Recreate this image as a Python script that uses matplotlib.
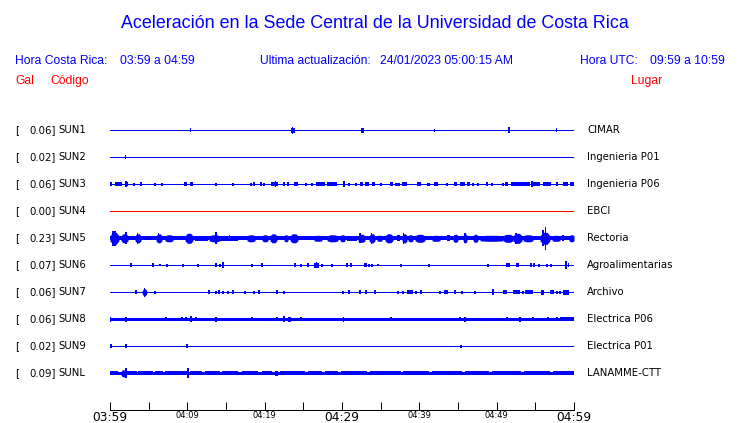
import matplotlib
matplotlib.use("Agg")
import matplotlib.pyplot as plt
from matplotlib import transforms

# station data
CODES = ["SUN1", "SUN2", "SUN3", "SUN4", "SUN5", "SUN6", "SUN7", "SUN8", "SUN9", "SUNL"]
GAL = [0.06, 0.02, 0.06, 0.00, 0.23, 0.07, 0.06, 0.06, 0.02, 0.09]
PLACES = ["CIMAR", "Ingenieria P01", "Ingenieria P06", "EBCI", "Rectoria",
          "Agroalimentarias", "Archivo", "Electrica P06", "Electrica P01", "LANAMME-CTT"]
# background noise half-amplitude of each trace (trace units, 27 per row)
NOISE = [0.5, 0.5, 0.5, 0.5, 2.0, 0.5, 0.5, 1.5, 0.5, 1.4]

# events: (start minute, end minute, half-amplitude) after 03:59
SUN1_EVENTS = [(10.44, 10.44, 2), (23.4, 23.9, 2.5), (23.57, 23.57, 3.5), (32.5, 32.9, 2.5),
               (41.99, 41.99, 1.5), (51.59, 51.59, 3), (57.76, 57.76, 2)]
SUN2_EVENTS = [(2.0, 2.0, 2)]
SUN3_EVENTS = [(0.0, 0.26, 2), (0.65, 1.55, 2), (1.94, 2.33, 2), (2.07, 2.07, 3), (3.10, 3.10, 1.5),
               (4.01, 4.01, 2), (5.82, 5.82, 1.5), (6.72, 6.72, 1.5), (9.57, 9.96, 2), (10.47, 10.47, 2),
               (10.60, 10.60, 2), (13.71, 13.71, 1.5), (15.91, 15.91, 1.5), (18.23, 18.23, 1.5),
               (18.62, 18.62, 2), (19.53, 19.53, 2), (19.91, 19.91, 1.5), (20.82, 21.72, 2),
               (21.4, 21.4, 3), (22.50, 22.50, 2), (23.02, 23.02, 2), (23.79, 24.31, 2),
               (25.34, 25.34, 1.5), (26.12, 26.12, 1.5), (26.64, 27.80, 2), (28.06, 29.35, 2),
               (30.26, 30.26, 3), (30.9, 30.9, 1.5), (31.81, 31.81, 1.5), (32.33, 32.72, 2),
               (32.97, 33.5, 2), (33.9, 34.27, 2), (35.04, 35.04, 1.5), (36.21, 36.59, 2),
               (36.85, 37.50, 1.5), (37.76, 38.41, 2), (39.70, 40.22, 2), (40.99, 41.38, 1.5),
               (41.90, 42.41, 2), (43.58, 43.58, 1.5), (44.48, 44.87, 2), (45.26, 45.91, 2),
               (46.16, 46.55, 2), (46.94, 46.94, 1.5), (47.59, 47.59, 1.5), (48.62, 48.88, 2),
               (49.40, 49.40, 1.5), (50.82, 50.82, 1.5), (51.08, 51.47, 2), (51.85, 54.31, 2),
               (54.57, 54.57, 3), (54.70, 55.60, 2), (55.99, 57.03, 2), (57.67, 57.93, 2),
               (58.58, 59.22, 2), (59.48, 60.0, 2)]
SUN4_EVENTS = []
SUN5_EVENTS = [(0.0, 1.16, 6), (0.3, 0.8, 7.5), (1.42, 2.33, 4.5), (2.07, 2.07, 6), (3.23, 4.01, 4.5),
               (3.6, 3.6, 5.5), (5.95, 6.72, 4.5), (6.3, 6.3, 5), (7.11, 8.15, 3.5), (9.70, 10.73, 5),
               (11.0, 12.67, 2.5), (12.80, 14.22, 3.5), (13.71, 13.71, 6), (14.22, 16.55, 2.5),
               (15.5, 15.5, 3), (17.72, 18.75, 3.5), (19.66, 20.43, 3.5), (20.69, 21.59, 4.5),
               (22.50, 23.02, 3.5), (23.28, 24.31, 4.5), (26.38, 27.41, 3), (28.06, 29.48, 3.5),
               (29.74, 30.39, 3.5), (30.65, 31.94, 2.5), (32.07, 32.97, 4), (32.33, 32.33, 5),
               (33.49, 34.27, 4.5), (33.8, 33.8, 5.5), (34.53, 35.17, 3), (35.56, 36.59, 4.5),
               (37.11, 37.50, 3), (37.76, 38.41, 4.5), (38.0, 38.0, 5.5), (38.53, 39.18, 3.5),
               (39.44, 40.73, 4), (41.64, 42.67, 3), (43.58, 43.97, 3), (44.35, 45.00, 4),
               (45.65, 46.16, 4.5), (45.9, 45.9, 5), (46.94, 47.59, 4), (47.84, 50.82, 3),
               (50.82, 52.11, 4), (52.11, 53.28, 5), (52.5, 52.5, 5.5), (53.41, 54.70, 3.5),
               (55.60, 56.90, 6), (56.0, 56.0, 8), (56.3, 56.3, 11.5), (57.16, 58.19, 3),
               (58.58, 58.58, 3), (59.35, 60.0, 3.5)]
SUN6_EVENTS = [(2.72, 2.72, 2), (5.56, 5.56, 2), (6.47, 6.47, 1), (7.37, 7.37, 1.5), (9.44, 9.44, 1.5),
               (11.38, 11.38, 1.5), (13.71, 13.71, 2), (14.22, 14.22, 1.5), (14.5, 14.7, 3),
               (18.36, 18.36, 1.5), (19.66, 19.66, 2), (23.79, 24.05, 2), (24.70, 24.70, 1.5),
               (25.60, 25.60, 2), (26.38, 27.03, 2.5), (26.7, 26.7, 3), (27.41, 27.41, 1.5),
               (28.71, 28.71, 1.5), (30.65, 30.65, 2), (31.16, 31.16, 2), (32.84, 33.23, 2),
               (33.49, 33.49, 1.5), (33.88, 33.88, 1.5), (34.66, 34.66, 1), (37.63, 37.63, 1.5),
               (41.25, 41.25, 1.5), (48.88, 48.88, 1.5), (51.34, 51.34, 2), (51.59, 51.59, 2),
               (52.50, 52.89, 2), (54.44, 54.44, 2), (54.83, 54.83, 2), (55.47, 55.47, 1.5),
               (56.51, 56.51, 1.5), (57.03, 57.03, 1.5), (58.84, 59.09, 4), (59.22, 59.35, 2)]
SUN7_EVENTS = [(3.36, 3.36, 2), (4.14, 4.78, 3.5), (4.45, 4.45, 4.5), (5.82, 5.82, 1.5), (12.80, 12.80, 2),
               (13.71, 13.71, 1.5), (14.09, 14.09, 2), (14.61, 14.61, 1.5), (15.26, 15.26, 1.5),
               (15.91, 15.91, 2), (17.46, 17.46, 1.5), (18.62, 18.62, 1.5), (19.27, 19.27, 2),
               (21.59, 21.59, 2), (22.50, 22.50, 1.5), (30.13, 30.13, 1.5), (30.90, 30.90, 2),
               (32.33, 32.33, 2), (33.10, 33.10, 2), (34.27, 34.27, 2), (37.24, 37.24, 1.5),
               (37.89, 37.89, 1.5), (38.41, 39.18, 2), (39.57, 39.57, 1.5), (40.22, 40.22, 2),
               (42.67, 42.67, 1.5), (43.19, 43.71, 2), (44.61, 44.61, 2), (45.52, 45.52, 1.5),
               (47.20, 47.20, 1.5), (49.40, 49.66, 3), (50.82, 51.34, 2), (52.11, 53.02, 2),
               (53.41, 53.41, 1.5), (53.66, 54.70, 2), (55.73, 56.12, 2.5), (56.90, 57.41, 2),
               (57.80, 57.80, 1.5), (58.19, 58.19, 1.5), (58.58, 59.35, 2.5)]
SUN8_EVENTS = [(0.0, 0.13, 2.5), (2.07, 2.07, 2.5), (7.24, 7.24, 2), (9.31, 9.31, 2), (9.83, 9.83, 2),
               (10.47, 10.47, 3), (11.12, 11.12, 2), (13.71, 13.71, 2.5), (18.36, 18.36, 2),
               (21.59, 21.59, 2), (22.50, 22.50, 3), (23.02, 23.41, 2.5), (24.70, 24.70, 2),
               (30.13, 30.26, 2.5), (36.34, 36.34, 2), (45.26, 45.26, 2), (45.91, 45.91, 2.5),
               (51.34, 51.34, 2), (53.02, 53.02, 2.5), (54.70, 54.70, 2), (56.64, 56.64, 2),
               (57.80, 57.80, 2), (58.19, 60.0, 2)]
SUN9_EVENTS = [(0.13, 0.13, 2), (2.07, 2.07, 2), (9.96, 9.96, 2), (45.39, 45.39, 1.5)]
SUNL_EVENTS = [(0.0, 1.03, 2), (1.42, 2.07, 3.5), (2.07, 2.07, 5), (2.2, 3.49, 2), (3.62, 5.56, 2),
               (5.82, 6.85, 2), (7.11, 9.96, 2), (10.09, 10.09, 5), (10.3, 11.90, 2), (12.28, 14.22, 2),
               (14.5, 16.55, 2), (17.07, 19.14, 2), (19.66, 20.95, 2), (21.34, 21.72, 2.5),
               (21.98, 25.22, 2), (25.6, 27.4, 2), (27.8, 29.5, 2), (29.9, 33.2, 2), (33.6, 37.6, 2),
               (37.9, 41.2, 2), (41.6, 45.5, 2), (45.9, 49.0, 2), (49.4, 53.1, 2), (53.5, 56.9, 2),
               (57.3, 60.0, 2)]
EVENTS = [SUN1_EVENTS, SUN2_EVENTS, SUN3_EVENTS, SUN4_EVENTS, SUN5_EVENTS,
          SUN6_EVENTS, SUN7_EVENTS, SUN8_EVENTS, SUN9_EVENTS, SUNL_EVENTS]

MAJOR_TICKS = [0, 10, 20, 30, 40, 50, 60]
TICK_LABELS = ["03:59", "04:09", "04:19", "04:29", "04:39", "04:49", "04:59"]
MINOR_TICKS = [5, 15, 25, 35, 45, 55]

TITLE = "Aceleración en la Sede Central de la Universidad de Costa Rica"

W, H = 740, 423
ROW = 27.0  # trace units per row
PX = 72.0 / 100  # points per pixel
MIN_W = 0.15  # narrowest spike, minutes
BLUE = "#0000ff"
RED = "#ff0000"

fig = plt.figure(figsize=(W / 100, H / 100), dpi=100)
ax = fig.add_axes([110 / W, (H - 409.5) / H, 464 / W, (409.5 - 115) / H])
ax.set_xlim(0, 60)
ax.set_ylim((409.5 - 130.3) / ROW, (115 - 130.3) / ROW)

for i, events in enumerate(EVENTS):
    color = RED if GAL[i] == 0 else BLUE
    ax.hlines(i, 0, 60, color=color, lw=max(2 * NOISE[i], 1) * PX, antialiased=False)
    narrow = []
    for s, e, a in events:
        w = e - s
        if w > 0.5 and a >= 3:
            # spindle shaped burst
            xs = [s, s + 0.3 * w, e - 0.3 * w, e]
            amp = [NOISE[i] + 0.5, a, a, NOISE[i] + 0.5]
            ax.fill_between(xs, [i - v / ROW for v in amp], [i + v / ROW for v in amp],
                            color=color, lw=0, antialiased=False)
        else:
            narrow.append((s, e, a))
    if not narrow:
        continue
    xs = [(s + e) / 2 for s, e, a in narrow]
    ws = [max(e - s, MIN_W) for s, e, a in narrow]
    hs = [2 * a / ROW for s, e, a in narrow]
    bs = [i - a / ROW for s, e, a in narrow]
    ax.bar(xs, hs, width=ws, bottom=bs, color=color, lw=0, antialiased=False)

for side in ["top", "left", "right"]:
    ax.spines[side].set_visible(False)
ax.spines["bottom"].set_linewidth(PX)
ax.set_yticks([])
ax.set_xticks(MAJOR_TICKS)
ax.set_xticklabels(TICK_LABELS)
ax.set_xticks(MINOR_TICKS, minor=True)
ax.tick_params(axis="x", which="both", direction="in", length=8 * PX, width=PX, pad=1)
for k, lab in enumerate(ax.get_xticklabels()):
    lab.set_fontsize(8.8 if k in (0, 3, 6) else 6.0)
    lab.set_verticalalignment("top")

# row labels
row_tr = transforms.blended_transform_factory(fig.transFigure, ax.transData)
lab_font = dict(fontsize=7.3, color="black", va="center", transform=row_tr)
for i in range(len(CODES)):
    fig.text(15 / W, i, "[", ha="left", **lab_font)
    fig.text(55.5 / W, i, "%.2f]" % GAL[i], ha="right", **lab_font)
    fig.text(58.5 / W, i, CODES[i], ha="left", **lab_font)
    fig.text(587 / W, i, PLACES[i], ha="left", **lab_font)

# header
hdr = dict(family="Liberation Sans", fontsize=8.7, va="center")
fig.text(375 / W, 1 - 23 / H, TITLE, ha="center", family="Liberation Sans",
         fontsize=12.9, color=BLUE, va="center")
fig.text(15 / W, 1 - 61 / H, "Hora Costa Rica:", color=BLUE, **hdr)
fig.text(120 / W, 1 - 61 / H, "03:59 a 04:59", color=BLUE, **hdr)
fig.text(260 / W, 1 - 61 / H, "Ultima actualización:", color=BLUE, **hdr)
fig.text(380 / W, 1 - 61 / H, "24/01/2023 05:00:15 AM", color=BLUE, **hdr)
fig.text(580.5 / W, 1 - 61 / H, "Hora UTC:", color=BLUE, **hdr)
fig.text(650.5 / W, 1 - 61 / H, "09:59 a 10:59", color=BLUE, **hdr)
fig.text(15 / W, 1 - 81 / H, "Gal", color=RED, **hdr)
fig.text(50 / W, 1 - 81 / H, "Código", color=RED, **hdr)
fig.text(630.5 / W, 1 - 81 / H, "Lugar", color=RED, **hdr)

fig.savefig("out.png", dpi=100)
